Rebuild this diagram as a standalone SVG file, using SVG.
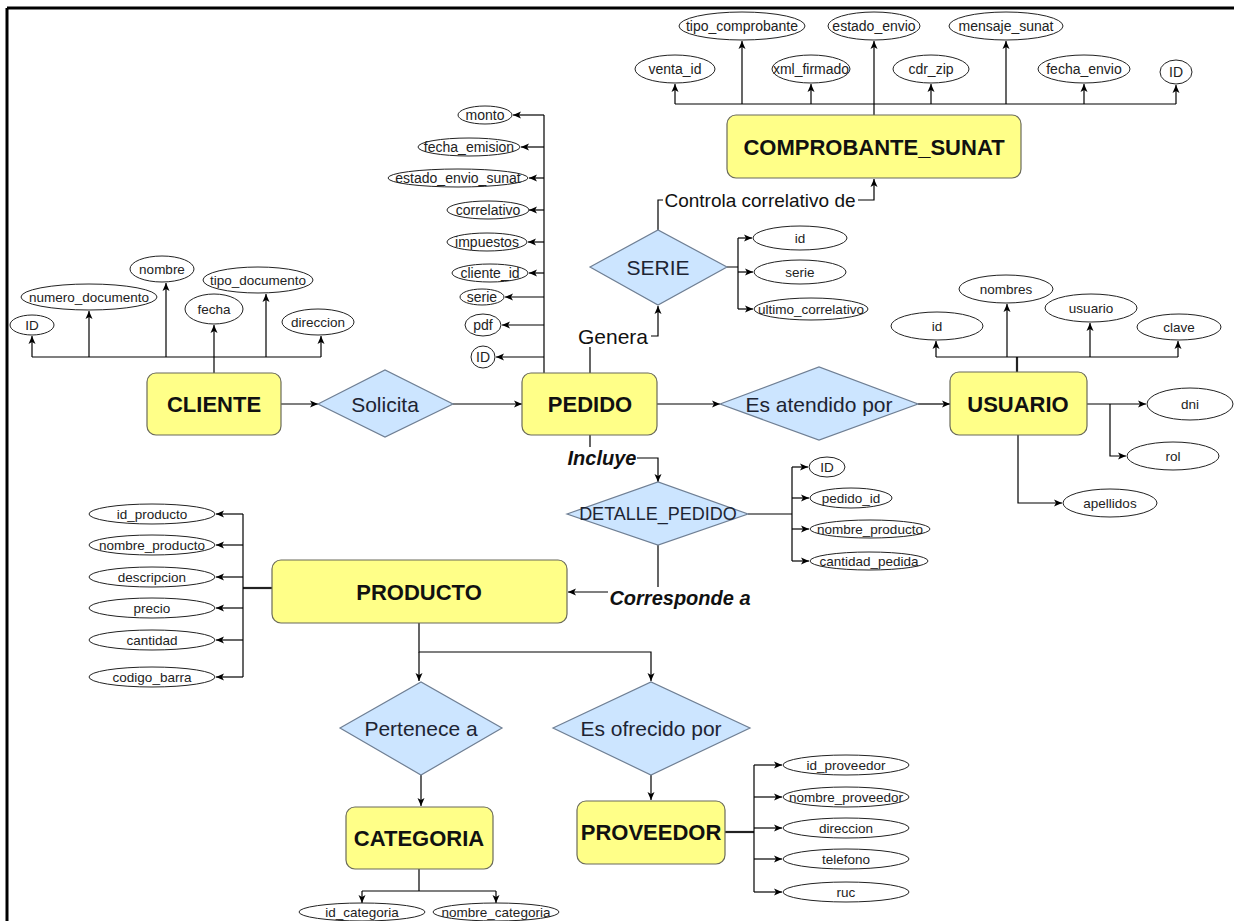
<svg xmlns="http://www.w3.org/2000/svg" width="1234" height="921" viewBox="0 0 1234 921">
<defs>
<marker id="arr" markerWidth="8" markerHeight="8" refX="8" refY="4" orient="auto" markerUnits="userSpaceOnUse">
<path d="M0,0.5 L8,4 L0,7.5 L2,4 z" fill="#000"/>
</marker>
<style>
.ent{fill:#ffff88;stroke:#6b6b5a;stroke-width:1.2}
.rel{fill:#cce5ff;stroke:#6f7f94;stroke-width:1.2}
.attr{fill:#fff;stroke:#222;stroke-width:1}
.et{font-family:"Liberation Sans",Arial,sans-serif;font-weight:bold;font-size:22px;text-anchor:middle;dominant-baseline:central;fill:#111}
.rt{font-family:"Liberation Sans",Arial,sans-serif;font-size:21px;text-anchor:middle;dominant-baseline:central;fill:#1d2433}
.at{font-family:"Liberation Sans",Arial,sans-serif;font-size:13.5px;text-anchor:middle;dominant-baseline:central;fill:#222}
.ap{font-family:"Liberation Sans",Arial,sans-serif;font-size:14px;text-anchor:middle;dominant-baseline:central;fill:#222}
.lb{font-family:"Liberation Sans",Arial,sans-serif;font-size:20px;font-weight:bold;font-style:italic;text-anchor:middle;dominant-baseline:central;fill:#111}
.ln{font-family:"Liberation Sans",Arial,sans-serif;font-size:19px;text-anchor:middle;dominant-baseline:central;fill:#111}
.e{fill:none;stroke:#000;stroke-width:1.2}
.ea{fill:none;stroke:#000;stroke-width:1.2;marker-end:url(#arr)}
.thick{fill:none;stroke:#222;stroke-width:2.2}
</style>
</defs>
<rect x="0" y="0" width="1234" height="921" fill="#fff"/>
<path d="M7,8 H1234 M7,8 V921" fill="none" stroke="#000" stroke-width="3"/>

<g id="connectors">
<!-- COMPROBANTE attrs -->
<path class="e" d="M675,104 H1176"/>
<path class="ea" d="M874,115 V41"/>
<path class="ea" d="M675,104 V84"/>
<path class="ea" d="M742,104 V41"/>
<path class="ea" d="M811,104 V84"/>
<path class="ea" d="M931,104 V84"/>
<path class="ea" d="M1006,104 V41"/>
<path class="ea" d="M1084,104 V84"/>
<path class="ea" d="M1176,104 V85"/>
<!-- PEDIDO attrs -->
<path class="e" d="M544,373 V115"/>
<path class="ea" d="M544,115 H513"/>
<path class="ea" d="M544,147 H521"/>
<path class="ea" d="M544,178 H529"/>
<path class="ea" d="M544,210 H529"/>
<path class="ea" d="M544,242 H528"/>
<path class="ea" d="M544,273 H529"/>
<path class="ea" d="M544,297 H505"/>
<path class="ea" d="M544,325 H502"/>
<path class="ea" d="M544,357 H496"/>
<!-- CLIENTE attrs -->
<path class="ea" d="M214,373 V325"/>
<path class="e" d="M32,357 H321"/>
<path class="ea" d="M32,357 V336"/>
<path class="ea" d="M89,357 V311"/>
<path class="ea" d="M166,357 V283"/>
<path class="ea" d="M266,357 V294"/>
<path class="ea" d="M321,357 V336"/>
<!-- main row -->
<path class="ea" d="M281,404 H318"/>
<path class="ea" d="M453,404 H522"/>
<path class="ea" d="M657,404 H720"/>
<path class="ea" d="M918,404 H950"/>
<!-- Genera / Controla -->
<path class="ea" d="M590,373 V336 H658 V306"/>
<path class="ea" d="M658,230 V200 H874 V179"/>
<!-- SERIE attrs -->
<path class="e" d="M727,267 H738 M738,238 V309"/>
<path class="ea" d="M738,238 H752"/>
<path class="ea" d="M738,272 H753"/>
<path class="ea" d="M738,309 H753"/>
<!-- USUARIO attrs -->
<path class="thick" d="M1017,372 V357"/>
<path class="e" d="M936,357 H1178"/>
<path class="ea" d="M936,357 V341"/>
<path class="ea" d="M1007,357 V304"/>
<path class="ea" d="M1090,357 V323"/>
<path class="ea" d="M1178,357 V341"/>
<path class="ea" d="M1087,404 H1146"/>
<path class="ea" d="M1110,404 V456 H1126"/>
<path class="ea" d="M1018,435 V503 H1062"/>
<!-- Incluye / DETALLE -->
<path class="ea" d="M590,435 V458 H658 V482"/>
<path class="e" d="M748,514 H792 M792,467 V561"/>
<path class="ea" d="M792,467 H808"/>
<path class="ea" d="M792,498 H809"/>
<path class="ea" d="M792,529 H809"/>
<path class="ea" d="M792,561 H809"/>
<path class="ea" d="M658,545 V592 H568"/>
<!-- PRODUCTO attrs -->
<path class="thick" d="M272,588 H243"/>
<path class="e" d="M243,514 V677"/>
<path class="ea" d="M243,514 H216"/>
<path class="ea" d="M243,545 H216"/>
<path class="ea" d="M243,577 H216"/>
<path class="ea" d="M243,608 H216"/>
<path class="ea" d="M243,640 H216"/>
<path class="ea" d="M243,677 H216"/>
<!-- PRODUCTO down -->
<path class="ea" d="M419,623 V652 H651 V681"/>
<path class="ea" d="M419,652 V681"/>
<path class="ea" d="M421,775 V806"/>
<path class="ea" d="M651,775 V800"/>
<!-- CATEGORIA attrs -->
<path class="e" d="M419,869 V891 M362,891 H496"/>
<path class="ea" d="M362,891 V903"/>
<path class="ea" d="M496,891 V903"/>
<!-- PROVEEDOR attrs -->
<path class="thick" d="M725,832 H754"/>
<path class="e" d="M754,765 V892"/>
<path class="ea" d="M754,765 H782"/>
<path class="ea" d="M754,797 H782"/>
<path class="ea" d="M754,828 H782"/>
<path class="ea" d="M754,859 H782"/>
<path class="ea" d="M754,892 H782"/>
<!-- edge labels -->
<rect x="575" y="325" width="76" height="22" fill="#fff"/>
<text class="ln" x="613" y="336" style="font-size:21px">Genera</text>
<rect x="663" y="190" width="195" height="20" fill="#fff"/>
<text class="ln" x="760" y="200">Controla correlativo de</text>
<rect x="567" y="447" width="70" height="22" fill="#fff"/>
<text class="lb" x="602" y="458">Incluye</text>
<rect x="608" y="587" width="144" height="22" fill="#fff"/>
<text class="lb" x="680" y="598">Corresponde a</text>
</g>

<g id="comprobante_sunat">
<rect class="ent" x="727" y="115" width="294" height="63" rx="9"/>
<text class="et" x="874" y="147">COMPROBANTE_SUNAT</text>
</g>
<g id="comprobante_attrs">
<ellipse class="attr" cx="742" cy="26" rx="63" ry="14"/><text class="ap" x="742" y="26">tipo_comprobante</text>
<ellipse class="attr" cx="874" cy="26" rx="46" ry="14"/><text class="ap" x="874" y="26">estado_envio</text>
<ellipse class="attr" cx="1006" cy="26" rx="57" ry="14"/><text class="ap" x="1006" y="26">mensaje_sunat</text>
<ellipse class="attr" cx="675" cy="69" rx="40" ry="14"/><text class="ap" x="675" y="69">venta_id</text>
<ellipse class="attr" cx="811" cy="69" rx="39" ry="14"/><text class="ap" x="811" y="69">xml_firmado</text>
<ellipse class="attr" cx="931" cy="69" rx="38" ry="14"/><text class="ap" x="931" y="69">cdr_zip</text>
<ellipse class="attr" cx="1084" cy="69" rx="46" ry="14"/><text class="ap" x="1084" y="69">fecha_envio</text>
<ellipse class="attr" cx="1176" cy="72" rx="16" ry="12"/><text class="ap" x="1176" y="72">ID</text>
</g>

<g id="pedido">
<rect class="ent" x="522" y="373" width="135" height="62" rx="9"/>
<text class="et" x="590" y="404">PEDIDO</text>
</g>
<g id="pedido_attrs">
<ellipse class="attr" cx="485" cy="115" rx="27" ry="9"/><text class="ap" x="485" y="115">monto</text>
<ellipse class="attr" cx="469" cy="147" rx="51" ry="9"/><text class="ap" x="469" y="147">fecha_emision</text>
<ellipse class="attr" cx="458" cy="178" rx="70" ry="9"/><text class="ap" x="458" y="178">estado_envio_sunat</text>
<ellipse class="attr" cx="488" cy="210" rx="41" ry="9"/><text class="ap" x="488" y="210">correlativo</text>
<ellipse class="attr" cx="487" cy="242" rx="40" ry="9"/><text class="ap" x="487" y="242">impuestos</text>
<ellipse class="attr" cx="490" cy="273" rx="38" ry="9"/><text class="ap" x="490" y="273">cliente_id</text>
<ellipse class="attr" cx="482" cy="297" rx="22" ry="8"/><text class="ap" x="482" y="297">serie</text>
<ellipse class="attr" cx="483" cy="325" rx="18" ry="11"/><text class="ap" x="483" y="325">pdf</text>
<ellipse class="attr" cx="483" cy="357" rx="12" ry="11"/><text class="ap" x="483" y="357">ID</text>
</g>

<g id="cliente">
<rect class="ent" x="147" y="373" width="134" height="62" rx="9"/>
<text class="et" x="214" y="404">CLIENTE</text>
</g>
<g id="cliente_attrs">
<ellipse class="attr" cx="32" cy="325" rx="22" ry="10"/><text class="at" x="32" y="325">ID</text>
<ellipse class="attr" cx="89" cy="297" rx="68" ry="13"/><text class="at" x="89" y="297">numero_documento</text>
<ellipse class="attr" cx="162" cy="269" rx="32" ry="13"/><text class="at" x="162" y="269">nombre</text>
<ellipse class="attr" cx="214" cy="309" rx="29" ry="15"/><text class="at" x="214" y="309">fecha</text>
<ellipse class="attr" cx="258" cy="280" rx="55" ry="13"/><text class="at" x="258" y="280">tipo_documento</text>
<ellipse class="attr" cx="318" cy="322" rx="36" ry="13"/><text class="at" x="318" y="322">direccion</text>
</g>

<g id="solicita">
<polygon class="rel" points="318,404 385,370 453,404 385,437"/>
<text class="rt" x="385" y="404">Solicita</text>
</g>
<g id="es_atendido_por">
<polygon class="rel" points="720,404 819,367 918,404 819,440"/>
<text class="rt" x="819" y="404">Es atendido por</text>
</g>
<g id="serie">
<polygon class="rel" points="590,267 658,230 727,267 658,305"/>
<text class="rt" x="658" y="267">SERIE</text>
</g>
<g id="serie_attrs">
<ellipse class="attr" cx="800" cy="238" rx="47" ry="12"/><text class="at" x="800" y="238">id</text>
<ellipse class="attr" cx="800" cy="272" rx="46" ry="12"/><text class="at" x="800" y="272">serie</text>
<ellipse class="attr" cx="811" cy="309" rx="57" ry="11"/><text class="at" x="811" y="309">ultimo_correlativo</text>
</g>

<g id="usuario">
<rect class="ent" x="950" y="372" width="137" height="63" rx="9"/>
<text class="et" x="1018" y="404">USUARIO</text>
</g>
<g id="usuario_attrs">
<ellipse class="attr" cx="937" cy="326" rx="46" ry="14"/><text class="at" x="937" y="326">id</text>
<ellipse class="attr" cx="1006" cy="289" rx="47" ry="14"/><text class="at" x="1006" y="289">nombres</text>
<ellipse class="attr" cx="1091" cy="308" rx="46" ry="14"/><text class="at" x="1091" y="308">usuario</text>
<ellipse class="attr" cx="1179" cy="327" rx="42" ry="13"/><text class="at" x="1179" y="327">clave</text>
<ellipse class="attr" cx="1190" cy="404" rx="43" ry="16"/><text class="at" x="1190" y="404">dni</text>
<ellipse class="attr" cx="1173" cy="456" rx="46" ry="14"/><text class="at" x="1173" y="456">rol</text>
<ellipse class="attr" cx="1110" cy="503" rx="47" ry="14"/><text class="at" x="1110" y="503">apellidos</text>
</g>

<g id="detalle_pedido">
<polygon class="rel" points="567,514 658,482 748,514 658,545"/>
<text class="rt" x="658" y="514" style="font-size:18px">DETALLE_PEDIDO</text>
</g>
<g id="detalle_attrs">
<ellipse class="attr" cx="827" cy="467" rx="18" ry="10"/><text class="at" x="827" y="467">ID</text>
<ellipse class="attr" cx="851" cy="498" rx="41" ry="10"/><text class="at" x="851" y="498">pedido_id</text>
<ellipse class="attr" cx="870" cy="529" rx="60" ry="9"/><text class="at" x="870" y="529">nombre_producto</text>
<ellipse class="attr" cx="869" cy="561" rx="59" ry="9"/><text class="at" x="869" y="561">cantidad_pedida</text>
</g>

<g id="producto">
<rect class="ent" x="272" y="560" width="295" height="63" rx="9"/>
<text class="et" x="419" y="592">PRODUCTO</text>
</g>
<g id="producto_attrs">
<ellipse class="attr" cx="152" cy="514" rx="63" ry="10"/><text class="at" x="152" y="514">id_producto</text>
<ellipse class="attr" cx="152" cy="545" rx="63" ry="10"/><text class="at" x="152" y="545">nombre_producto</text>
<ellipse class="attr" cx="152" cy="577" rx="63" ry="10"/><text class="at" x="152" y="577">descripcion</text>
<ellipse class="attr" cx="152" cy="608" rx="63" ry="10"/><text class="at" x="152" y="608">precio</text>
<ellipse class="attr" cx="152" cy="640" rx="63" ry="10"/><text class="at" x="152" y="640">cantidad</text>
<ellipse class="attr" cx="152" cy="677" rx="63" ry="10"/><text class="at" x="152" y="677">codigo_barra</text>
</g>

<g id="pertenece_a">
<polygon class="rel" points="340,728 421,682 502,728 421,775"/>
<text class="rt" x="421" y="728">Pertenece a</text>
</g>
<g id="es_ofrecido_por">
<polygon class="rel" points="553,728 651,682 750,728 651,775"/>
<text class="rt" x="651" y="728">Es ofrecido por</text>
</g>

<g id="categoria">
<rect class="ent" x="346" y="807" width="147" height="62" rx="9"/>
<text class="et" x="419" y="838">CATEGORIA</text>
</g>
<g id="categoria_attrs">
<ellipse class="attr" cx="362" cy="912" rx="63" ry="9"/><text class="at" x="362" y="912">id_categoria</text>
<ellipse class="attr" cx="496" cy="912" rx="63" ry="9"/><text class="at" x="496" y="912">nombre_categoria</text>
</g>

<g id="proveedor">
<rect class="ent" x="577" y="801" width="148" height="63" rx="9"/>
<text class="et" x="651" y="832">PROVEEDOR</text>
</g>
<g id="proveedor_attrs">
<ellipse class="attr" cx="846" cy="765" rx="63" ry="10"/><text class="at" x="846" y="765">id_proveedor</text>
<ellipse class="attr" cx="846" cy="797" rx="63" ry="10"/><text class="at" x="846" y="797">nombre_proveedor</text>
<ellipse class="attr" cx="846" cy="828" rx="63" ry="10"/><text class="at" x="846" y="828">direccion</text>
<ellipse class="attr" cx="846" cy="859" rx="63" ry="10"/><text class="at" x="846" y="859">telefono</text>
<ellipse class="attr" cx="846" cy="892" rx="63" ry="10"/><text class="at" x="846" y="892">ruc</text>
</g>
</svg>
